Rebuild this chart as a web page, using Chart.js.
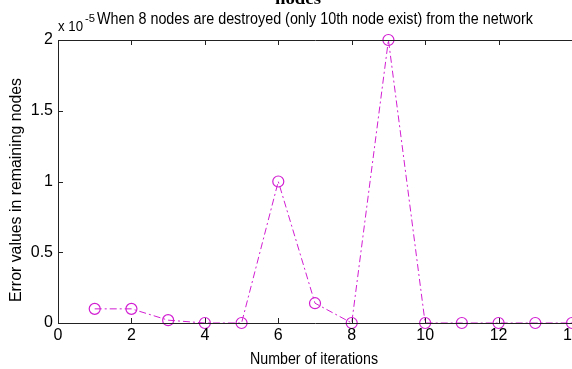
<!DOCTYPE html>
<html>
<head>
<meta charset="utf-8">
<script src="https://cdn.jsdelivr.net/npm/chart.js@4"></script>
<style>
html,body{margin:0;padding:0;background:#fff;}
#wrap{width:572px;height:369px;position:relative;}
</style>
</head>
<body>
<div id="wrap"><canvas id="c" width="572" height="369"></canvas></div>
<script>
const iterations = [1,2,3,4,5,6,7,8,9,10,11,12,13,14];
const errorValues = [0.1,0.1,0.02,0,0,1.0,0.14,0,2.0,0,0,0,0,0]; // x 10^-5
const xTicks = [0,2,4,6,8,10,12,14];
const yTicks = [0,0.5,1,1.5,2];
const titleTop = 'nodes';
const titleMain = 'When 8 nodes are destroyed (only 10th node exist) from the network';
const exponentBase = 'x 10';
const exponentPow = '-5';
const xLabel = 'Number of iterations';
const yLabel = 'Error values in remaining nodes';

const FONT = "'Liberation Sans', Arial, sans-serif";
const MAG = '#d21ed2';

function fitText(ctx, text, x, y, width, align) {
  const w = ctx.measureText(text).width;
  const k = width / w;
  ctx.save();
  ctx.translate(x, y);
  ctx.scale(k, 1);
  ctx.textAlign = align;
  ctx.fillText(text, 0, 0);
  ctx.restore();
}

const decor = {
  id: 'decor',
  afterDraw(chart) {
    const ctx = chart.ctx;
    const a = chart.chartArea;
    const xs = chart.scales.x, ys = chart.scales.y;
    ctx.save();
    ctx.strokeStyle = '#222';
    ctx.lineWidth = 1;
    ctx.beginPath();
    ctx.moveTo(a.left + 0.5, a.top + 0.5);
    ctx.lineTo(a.right + 0.5, a.top + 0.5);
    ctx.moveTo(a.left + 0.5, a.top);
    ctx.lineTo(a.left + 0.5, a.bottom + 0.5);
    ctx.lineTo(a.right + 0.5, a.bottom + 0.5);
    ctx.stroke();
    ctx.beginPath();
    xTicks.forEach(v => {
      const px = Math.round(xs.getPixelForValue(v)) + 0.5;
      ctx.moveTo(px, a.bottom); ctx.lineTo(px, a.bottom - 5);
      ctx.moveTo(px, a.top); ctx.lineTo(px, a.top + 5);
    });
    yTicks.forEach(v => {
      const py = Math.round(ys.getPixelForValue(v)) + 0.5;
      ctx.moveTo(a.left, py); ctx.lineTo(a.left + 5, py);
    });
    ctx.stroke();
    ctx.fillStyle = '#000';
    ctx.textBaseline = 'alphabetic';
    ctx.font = '16px ' + FONT;
    xTicks.forEach(v => {
      ctx.textAlign = 'center';
      ctx.fillText(String(v), xs.getPixelForValue(v), a.bottom + 17);
    });
    ctx.font = "bold 16px 'Liberation Serif', serif";
    fitText(ctx, titleTop, 298, 4, 46, 'center');
    ctx.font = '16px ' + FONT;
    fitText(ctx, titleMain, 97, 24, 436, 'left');
    ctx.font = '15px ' + FONT;
    fitText(ctx, exponentBase, 58, 31, 25, 'left');
    ctx.font = '10px ' + FONT;
    fitText(ctx, exponentPow, 85, 22, 10, 'left');
    ctx.font = '16px ' + FONT;
    fitText(ctx, xLabel, 314, 364, 128, 'center');
    ctx.save();
    ctx.translate(21, 190);
    ctx.rotate(-Math.PI / 2);
    fitText(ctx, yLabel, 0, 0, 224, 'center');
    ctx.restore();
    ctx.restore();
  }
};

new Chart(document.getElementById('c'), {
  type: 'line',
  data: {
    datasets: [{
      data: iterations.map((x, i) => ({x: x, y: errorValues[i]})),
      borderColor: MAG,
      borderWidth: 1,
      borderDash: [7, 3, 2, 3],
      pointStyle: 'circle',
      pointRadius: 5.5,
      pointBorderWidth: 1.2,
      pointBorderColor: MAG,
      pointBackgroundColor: 'rgba(0,0,0,0)',
      fill: false,
      tension: 0,
      clip: false
    }]
  },
  options: {
    responsive: false,
    animation: false,
    devicePixelRatio: 1,
    layout: {autoPadding: false, padding: {top: 40, right: 0, left: 0, bottom: 0}},
    plugins: {legend: {display: false}, tooltip: {enabled: false}, title: {display: false}},
    scales: {
      x: {
        type: 'linear', min: 0, max: 14,
        afterFit(s) { s.height = 46; s.paddingLeft = 0; s.paddingRight = 0; },
        afterBuildTicks(s) { s.ticks = xTicks.map(v => ({value: v})); },
        ticks: {display: false},
        grid: {display: false, drawTicks: false},
        border: {display: false}
      },
      y: {
        type: 'linear', min: 0, max: 2,
        afterFit(s) { s.width = 58; s.paddingTop = 0; s.paddingBottom = 0; },
        afterBuildTicks(s) { s.ticks = yTicks.map(v => ({value: v})); },
        ticks: {color: '#000', font: {family: FONT, size: 16}, padding: 5, autoSkip: false,
                callback: v => String(v)},
        grid: {display: false, drawTicks: false},
        border: {display: false}
      }
    }
  },
  plugins: [decor]
});
</script>
</body>
</html>
